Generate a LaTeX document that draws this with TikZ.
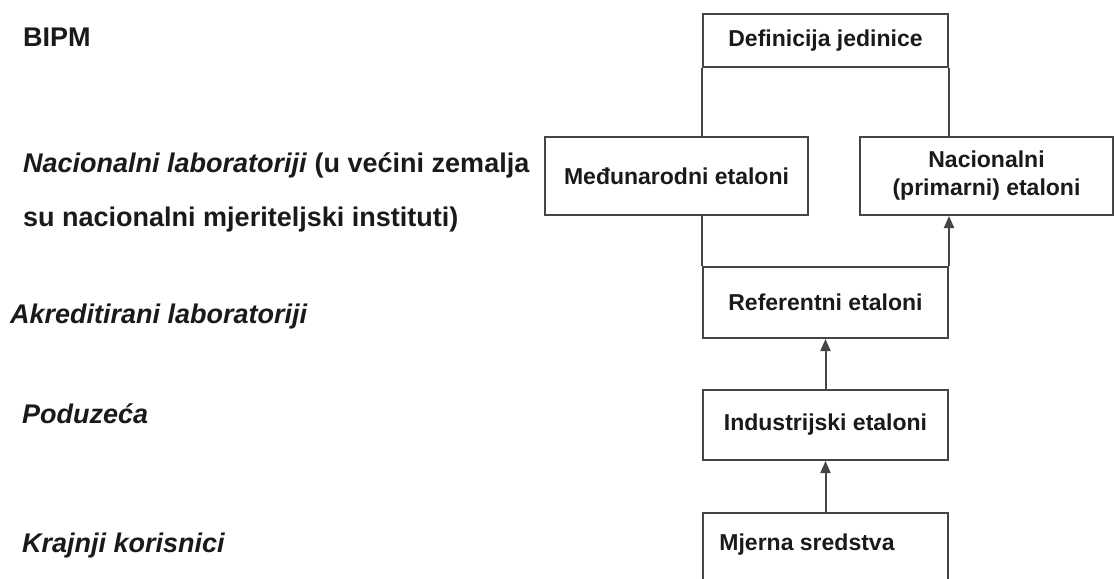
\documentclass[tikz,border=0pt]{standalone}
\usepackage{fontspec}
\setmainfont{Liberation Sans}
\usetikzlibrary{arrows.meta, positioning}
\definecolor{LDark}{HTML}{1A1A1A}
\definecolor{LGray}{HTML}{454545}

\tikzset{
  etalon/.style={draw=LGray, line width=2pt, fill=white, minimum width=245pt,
    inner sep=0pt, text=LDark, font=\fontsize{23}{28}\selectfont\bfseries},
  razina/.style={anchor=base west, inner sep=0pt, text=LDark,
    font=\fontsize{27}{30}\selectfont\bfseries},
  veza/.style={draw=LGray, line width=2pt},
  strel/.style={veza, -{Triangle[length=12pt, width=10pt]}}
}

\begin{document}
\begin{tikzpicture}[x=1pt, y=-1pt]
    \useasboundingbox (0,0) rectangle (1115,578);
    \clip (0,0) rectangle (1115,578);

    % Etaloni
    \node[etalon, minimum height=53pt] (def) at (825.5,40.5) {Definicija jedinice};
    \node[etalon, minimum width=263pt, minimum height=78pt] (medj) at (676.5,176) {Međunarodni etaloni};
    \node[etalon, minimum width=253pt, minimum height=78pt, align=center] (nac) at (986.5,176) {Nacionalni\\(primarni) etaloni};
    \node[etalon, minimum height=71pt] (ref) at (825.5,302.5) {Referentni etaloni};
    \node[etalon, minimum height=70pt] (ind) at (825.5,425) {Industrijski etaloni};
    \node[etalon, minimum height=80pt] (mjer) at (825.5,553) {};
    \node[text=LDark, inner sep=0pt, font=\fontsize{23}{28}\selectfont\bfseries] (mjerTxt) at (807,545) {Mjerna sredstva};

    % Veze
    \draw[veza] (def.south west) -- (def.south west |- medj.north);
    \draw[veza] (def.south east) -- (def.south east |- nac.north);
    \draw[veza] (ref.north west |- medj.south) -- (ref.north west);
    \draw[strel] (ref.north east) -- (ref.north east |- nac.south);
    \draw[strel] (ind) -- (ref);
    \draw[strel] (mjer) -- (ind);

    % Razine
    \node[razina] (bipm) at (23,46) {BIPM};
    \node[razina] (nacLab) at (23,172) {\textit{Nacionalni laboratoriji} (u većini zemalja};
    \node[razina] (nacLabDva) at (23,226) {su nacionalni mjeriteljski instituti)};
    \node[razina] (akr) at (10,323) {\textit{Akreditirani laboratoriji}};
    \node[razina] (pod) at (22,423) {\textit{Poduzeća}};
    \node[razina] (kor) at (22,552) {\textit{Krajnji korisnici}};
\end{tikzpicture}
\end{document}
